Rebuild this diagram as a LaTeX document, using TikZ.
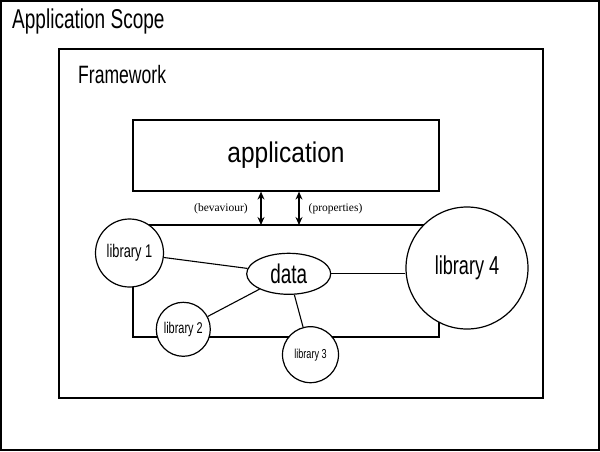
\documentclass[tikz,border=0pt]{standalone}
\usepackage{fontspec}
\usetikzlibrary{arrows.meta,shapes.geometric}
\newfontfamily\agency[FakeStretch=0.7]{Liberation Sans}
\newfontfamily\agencyw[FakeStretch=0.86]{Liberation Sans}
\newfontfamily\tms{Liberation Serif}
\tikzset{
  lib/.style={circle,draw,fill=white,line width=1.2pt,inner sep=0pt,font=\agency},
  lbl/.style={font=\tms\fontsize{11.5}{13}\selectfont,inner sep=0pt},
  link/.style={line width=1.1pt},
  biarrow/.style={line width=2.4pt,{Stealth[length=8pt,width=7pt]}-{Stealth[length=8pt,width=7pt]}}
}
\begin{document}
\begin{tikzpicture}[x=1pt,y=-1pt]
\useasboundingbox (0,0) rectangle (600,451);
\fill[white] (0,0) rectangle (600,451);
\draw[line width=2pt] (1,1) rectangle (599,450);
\node[anchor=west,inner sep=0pt,font=\agency\fontsize{27.2}{30}\selectfont] (scope) at (12,21) {Application Scope};
\draw[line width=1.3pt] (59,49) rectangle (543,398);
\node[anchor=west,inner sep=0pt,font=\agency\fontsize{25.1}{28}\selectfont] (fw) at (78,75) {Framework};
\node[draw,line width=1.2pt,minimum width=306pt,minimum height=71pt,inner sep=0pt,font=\agencyw\fontsize{28.5}{32}\selectfont] (app) at (286,155.5) {application};
% inner frame
\draw[link] (133,225) rectangle (439,337);
\coordinate (b1) at (261,225);
\coordinate (b2) at (299,225);
\draw[biarrow] (app.south -| b1) -- (b1);
\draw[biarrow] (app.south -| b2) -- (b2);
\node[lbl] (beh) at (221,209) {(bevaviour)};
\node[lbl] (prop) at (335.5,209) {(properties)};
% nodes
\node[lib,minimum size=68pt] (l1) at (129.5,253) {\fontsize{18.3}{20}\selectfont library 1};
\node[lib,minimum size=54pt] (l2) at (183.3,329.3) {\fontsize{15.6}{17}\selectfont library 2};
\node[lib,minimum size=56pt] (l3) at (310.5,354.7) {\fontsize{13}{15}\selectfont library 3};
\node[lib,minimum size=122pt] (l4) at (467,268) {\fontsize{25.9}{28}\selectfont library 4};
\node[ellipse,draw,fill=white,line width=1.2pt,minimum width=84pt,minimum height=41pt,inner sep=0pt,font=\agency\fontsize{27}{30}\selectfont] (data) at (288.7,273.8) {data};
\draw[link] (l1) -- (data);
\draw[link] (l2) -- (data);
\draw[link] (data) -- (l3);
\draw[link] (data.east) -- (l4.west |- data.east);
\end{tikzpicture}
\end{document}
